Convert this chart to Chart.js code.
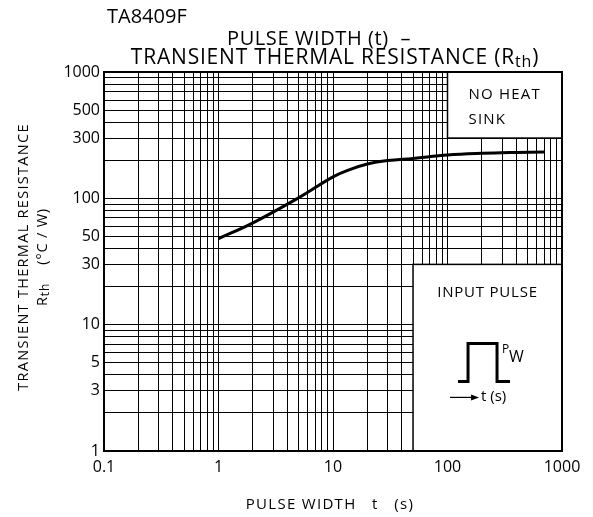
<!DOCTYPE html>
<html>
<head>
<meta charset="utf-8">
<script src="https://cdn.jsdelivr.net/npm/chart.js@4.4.0/dist/chart.umd.min.js"></script>
<style>
  html, body { margin: 0; padding: 0; background: #fff; }
  canvas { display: block; }
</style>
</head>
<body>
<canvas id="myChart" width="593" height="517"></canvas>
<script>
// curve
var pulseWidth = [1, 2, 5, 10, 14, 20, 30, 50, 100, 200, 400, 700];
var thermalRes = [48, 64, 101, 148, 169, 187, 199, 207, 220, 227, 231, 233];

var xTickLabels = [0.1, 1, 10, 100, 1000];
var yTickLabels = [1, 3, 5, 10, 30, 50, 100, 300, 500, 1000];
var xRange = [0.1, 1000];
var yRange = [1, 1000];

// note boxes, in data units
var noHeatBox = { x: [100, 1000], y: [300, 1000] };
var pulseBox = { x: [50, 1000], y: [1, 30] };

var FONT = '"Open Sans", sans-serif';

function logTicks(min, max) {
  var out = [];
  for (var e = Math.round(Math.log10(min)); e < Math.round(Math.log10(max)); e++) {
    for (var k = 1; k < 10; k++) out.push(parseFloat((k * Math.pow(10, e)).toPrecision(6)));
  }
  out.push(max);
  return out;
}

function hasLabel(list, v) {
  return list.some(function (l) { return Math.abs(Math.log10(l) - Math.log10(v)) < 1e-6; });
}

function drawRich(ctx, segs, cx, cy, spacing) {
  ctx.letterSpacing = (spacing || 0) + 'px';
  var w = 0;
  segs.forEach(function (s) { ctx.font = s.size + 'px ' + FONT; w += ctx.measureText(s.t).width; });
  var x = cx - w / 2;
  ctx.textAlign = 'left';
  ctx.textBaseline = 'middle';
  segs.forEach(function (s) {
    ctx.font = s.size + 'px ' + FONT;
    ctx.fillText(s.t, x, cy + (s.dy || 0));
    x += ctx.measureText(s.t).width;
  });
  ctx.letterSpacing = '0px';
}

function boxPx(chart, b) {
  var xs = chart.scales.x, ys = chart.scales.y;
  var l = xs.getPixelForValue(b.x[0]), r = xs.getPixelForValue(b.x[1]);
  var t = ys.getPixelForValue(b.y[1]), btm = ys.getPixelForValue(b.y[0]);
  return { l: l, r: r, t: t, b: btm };
}

var overlay = {
  id: 'overlay',
  beforeDatasetsDraw: function (chart) {
    var ctx = chart.ctx;
    [noHeatBox, pulseBox].forEach(function (b) {
      var p = boxPx(chart, b);
      ctx.save();
      ctx.fillStyle = '#fff';
      ctx.fillRect(p.l, p.t, p.r - p.l, p.b - p.t);
      ctx.strokeStyle = '#000';
      ctx.lineWidth = 1.5;
      ctx.strokeRect(p.l, p.t, p.r - p.l, p.b - p.t);
      ctx.restore();
    });
  },
  afterDraw: function (chart) {
    var ctx = chart.ctx, a = chart.chartArea;
    ctx.save();
    ctx.strokeStyle = '#000';
    ctx.lineWidth = 2;
    ctx.strokeRect(a.left, a.top, a.right - a.left, a.bottom - a.top);

    ctx.fillStyle = '#000';
    // titles
    ctx.font = '20px ' + FONT;
    ctx.textAlign = 'left';
    ctx.textBaseline = 'middle';
    ctx.fillText('TA8409F', 107, 17);
    drawRich(ctx, [{ t: 'PULSE WIDTH (t)  \u2013', size: 20 }], 319, 39, 0.6);
    drawRich(ctx, [
      { t: 'TRANSIENT THERMAL RESISTANCE (R', size: 21 },
      { t: 'th', size: 16, dy: 4 },
      { t: ')', size: 21 }
    ], 335, 58, 0.8);

    // x axis title
    drawRich(ctx, [{ t: 'PULSE WIDTH   t   (s)', size: 15 }], 330, 505, 1.3);

    // y axis title
    ctx.save();
    ctx.translate(24, 257);
    ctx.rotate(-Math.PI / 2);
    drawRich(ctx, [{ t: 'TRANSIENT THERMAL RESISTANCE', size: 14.5 }], 0, 0, 1.3);
    ctx.restore();
    ctx.save();
    ctx.translate(43, 257);
    ctx.rotate(-Math.PI / 2);
    drawRich(ctx, [
      { t: 'R', size: 14.5 },
      { t: 'th', size: 12, dy: 3 },
      { t: '    (\u00B0C / W)', size: 14.5 }
    ], 0, 0, 0.8);
    ctx.restore();

    // NO HEAT SINK note
    var n = boxPx(chart, noHeatBox);
    ctx.font = '15px ' + FONT;
    ctx.letterSpacing = '1.2px';
    ctx.textAlign = 'left';
    ctx.fillText('NO HEAT', n.l + 21, n.t + 23);
    ctx.fillText('SINK', n.l + 21, n.t + 48);
    ctx.letterSpacing = '0px';

    // INPUT PULSE note with pulse symbol
    var p = boxPx(chart, pulseBox);
    drawRich(ctx, [{ t: 'INPUT PULSE', size: 15 }], (p.l + p.r) / 2, p.t + 28, 0.8);
    ctx.lineWidth = 3;
    ctx.lineJoin = 'miter';
    ctx.beginPath();
    ctx.moveTo(p.l + 45, p.t + 117);
    ctx.lineTo(p.l + 55, p.t + 117);
    ctx.lineTo(p.l + 55, p.t + 79);
    ctx.lineTo(p.l + 84, p.t + 79);
    ctx.lineTo(p.l + 84, p.t + 117);
    ctx.lineTo(p.l + 97, p.t + 117);
    ctx.stroke();
    ctx.font = '12px ' + FONT;
    ctx.fillText('P', p.l + 89, p.t + 85);
    ctx.font = '16px ' + FONT;
    ctx.fillText('W', p.l + 96, p.t + 93);
    // arrow
    ctx.lineWidth = 1.2;
    ctx.beginPath();
    ctx.moveTo(p.l + 37, p.t + 133);
    ctx.lineTo(p.l + 60, p.t + 133);
    ctx.stroke();
    ctx.beginPath();
    ctx.moveTo(p.l + 66, p.t + 133);
    ctx.lineTo(p.l + 58, p.t + 130);
    ctx.lineTo(p.l + 58, p.t + 136);
    ctx.closePath();
    ctx.fill();
    ctx.font = '15px ' + FONT;
    ctx.fillText('t (s)', p.l + 68, p.t + 132);
    ctx.restore();
  }
};

var ctx = document.getElementById('myChart');
var tickFont = { family: FONT, size: 16 };

var myChart = new Chart(ctx, {
  type: 'line',
  data: {
    datasets: [{
      data: pulseWidth.map(function (x, i) { return { x: x, y: thermalRes[i] }; }),
      borderColor: '#000',
      borderWidth: 3,
      pointRadius: 0,
      tension: 0.4,
      fill: false
    }]
  },
  options: {
    responsive: false,
    animation: false,
    devicePixelRatio: 1,
    layout: { padding: { top: 72, right: 31, left: 0, bottom: 0 } },
    plugins: { legend: { display: false }, title: { display: false }, tooltip: { enabled: false } },
    scales: {
      x: {
        type: 'logarithmic',
        min: xRange[0],
        max: xRange[1],
        afterBuildTicks: function (s) { s.ticks = logTicks(xRange[0], xRange[1]).map(function (v) { return { value: v }; }); },
        afterFit: function (s) { s.height = 66; },
        grid: { color: '#000', lineWidth: 1, drawTicks: false },
        border: { display: true, color: '#000', width: 2 },
        ticks: {
          autoSkip: false, maxRotation: 0, padding: 7, color: '#000', font: tickFont,
          callback: function (v) { return hasLabel(xTickLabels, v) ? String(v) : ''; }
        }
      },
      y: {
        type: 'logarithmic',
        min: yRange[0],
        max: yRange[1],
        afterBuildTicks: function (s) { s.ticks = logTicks(yRange[0], yRange[1]).map(function (v) { return { value: v }; }); },
        afterFit: function (s) { s.width = 104; },
        grid: { color: '#000', lineWidth: 1, drawTicks: false },
        border: { display: true, color: '#000', width: 2 },
        ticks: {
          autoSkip: false, padding: 4, color: '#000', font: tickFont,
          callback: function (v) { return hasLabel(yTickLabels, v) ? String(v) : ''; }
        }
      }
    }
  },
  plugins: [overlay]
});
</script>
</body>
</html>
